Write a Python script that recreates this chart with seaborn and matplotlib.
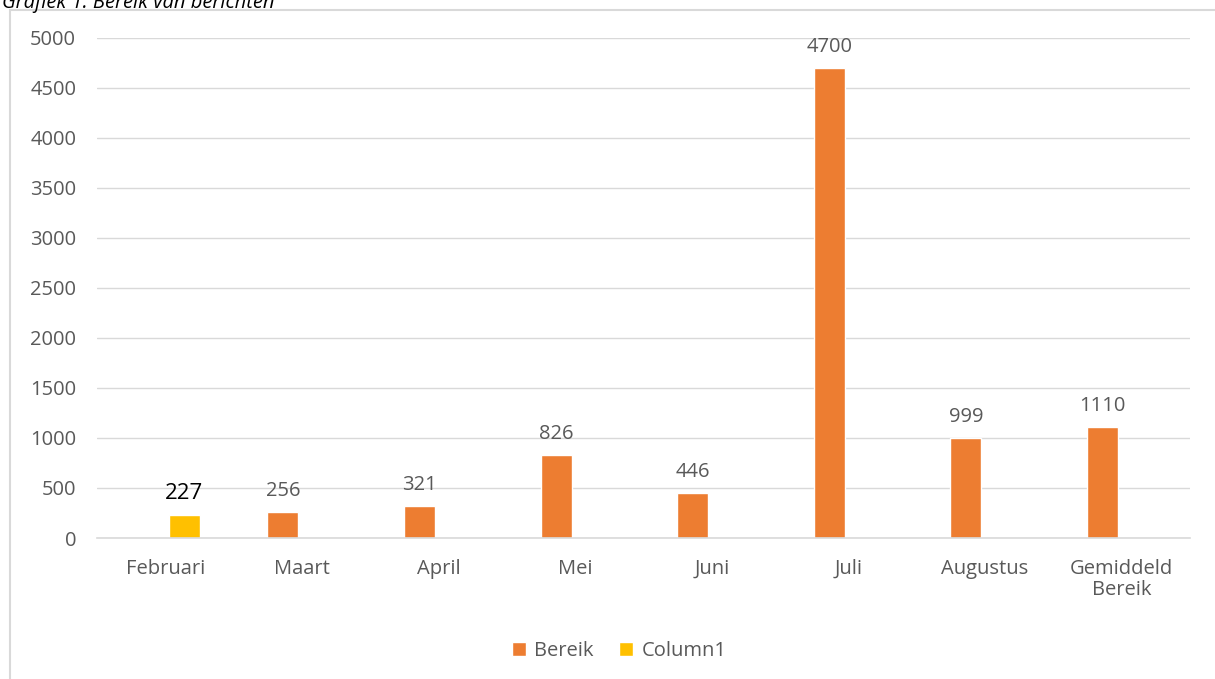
import pandas as pd
import seaborn as sns
import matplotlib.pyplot as plt
from matplotlib.patches import Rectangle

# data
maanden = ['Februari', 'Maart', 'April', 'Mei', 'Juni', 'Juli', 'Augustus', 'Gemiddeld\nBereik']
bereik_maanden = ['Maart', 'April', 'Mei', 'Juni', 'Juli', 'Augustus', 'Gemiddeld\nBereik']
bereik = [256, 321, 826, 446, 4700, 999, 1110]
column1_maanden = ['Februari']
column1 = [227]
series = ['Bereik', 'Column1']
kleuren = ['#ED7D31', '#FFC000']

df = pd.concat([
    pd.DataFrame({'maand': bereik_maanden, 'waarde': bereik, 'serie': 'Bereik'}),
    pd.DataFrame({'maand': column1_maanden, 'waarde': column1, 'serie': 'Column1'}),
])

sns.set_style('white')
plt.rcParams['font.family'] = ['Open Sans', 'DejaVu Sans']

fig = plt.figure(figsize=(12.15, 6.79), dpi=100)
ax = fig.add_axes([97 / 1215, 1 - 538 / 679, (1190 - 97) / 1215, 500 / 679])

sns.barplot(data=df, x='maand', y='waarde', hue='serie', order=maanden,
            hue_order=series, palette=kleuren, width=0.56, gap=0.19,
            dodge=True, saturation=1, ax=ax, legend=True)

ax.set_ylim(0, 5000)
ax.set_xlim(-0.5, len(maanden) - 0.5)
ax.set_yticks(range(0, 5001, 500))
ax.yaxis.grid(True, color='#D9D9D9', linewidth=1)
ax.set_axisbelow(True)
ax.set_xlabel('')
ax.set_ylabel('')
for s in ['left', 'right', 'top']:
    ax.spines[s].set_visible(False)
ax.spines['bottom'].set_color('#D9D9D9')
ax.spines['bottom'].set_linewidth(1.2)

# tick marks between categories
ax.set_xticks([i - 0.5 for i in range(len(maanden) + 1)], minor=True)
ax.tick_params(axis='x', which='minor', length=6, color='#D9D9D9', width=1.2, direction='out')
ax.tick_params(axis='x', which='major', length=0, pad=15, labelsize=14.5, labelcolor='#595959')
ax.tick_params(axis='y', length=0, pad=15, labelsize=14.5, labelcolor='#595959')
for lbl in ax.get_xticklabels():
    lbl.set_linespacing(1.05)

# value labels
for cont, serie in zip(ax.containers, series):
    if serie == 'Column1':
        ax.bar_label(cont, fmt='%d', padding=8, fontsize=16, color='black')
    else:
        ax.bar_label(cont, fmt='%d', padding=8, fontsize=14.5, color='#595959')

# legend at the bottom
handles, labels = ax.get_legend_handles_labels()
ax.get_legend().remove()
fig.legend(handles, labels, loc='center', bbox_to_anchor=(619 / 1215, 1 - 651 / 679),
           ncol=2, frameon=False, fontsize=14.5, labelcolor='#595959',
           handlelength=0.7, handleheight=0.7, handletextpad=0.4, columnspacing=1.3)

# chart border and cut-off title
fig.patches.append(Rectangle((10 / 1215, -0.05), 1.1, 1.05 - 10 / 679,
                             transform=fig.transFigure, fill=False,
                             edgecolor='#D9D9D9', linewidth=1.5))
fig.text(2 / 1215, 1 - 8 / 679, 'Grafiek 1: Bereik van berichten', fontsize=14.5,
         style='italic', color='black', va='baseline', ha='left')

fig.savefig('out.png', dpi=100)
